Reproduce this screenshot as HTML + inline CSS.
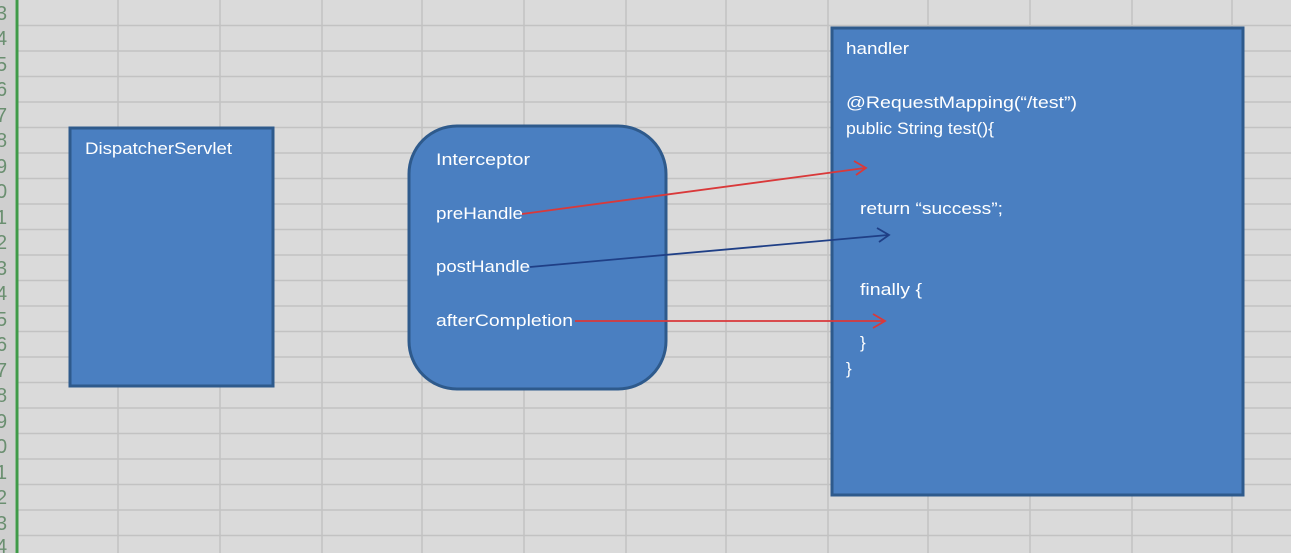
<!DOCTYPE html>
<html><head><meta charset="utf-8"><style>
html,body{margin:0;padding:0;background:#d9d9d9;}
svg{display:block;}
text{font-family:"Liberation Sans",sans-serif;fill:#fff;font-size:17px;}
</style></head><body>
<svg width="1291" height="553" viewBox="0 0 1291 553" xmlns="http://www.w3.org/2000/svg">
<rect x="0" y="0" width="1291" height="553" fill="#dadada"/>
<g stroke="#c2c2c2" stroke-width="1.5">
<line x1="18" y1="25.5" x2="1291" y2="25.5"/><line x1="18" y1="51" x2="1291" y2="51"/>
<line x1="18" y1="76.5" x2="1291" y2="76.5"/><line x1="18" y1="102" x2="1291" y2="102"/>
<line x1="18" y1="127.5" x2="1291" y2="127.5"/><line x1="18" y1="153" x2="1291" y2="153"/>
<line x1="18" y1="178.5" x2="1291" y2="178.5"/><line x1="18" y1="204" x2="1291" y2="204"/>
<line x1="18" y1="229.5" x2="1291" y2="229.5"/><line x1="18" y1="255" x2="1291" y2="255"/>
<line x1="18" y1="280.5" x2="1291" y2="280.5"/><line x1="18" y1="306" x2="1291" y2="306"/>
<line x1="18" y1="331.5" x2="1291" y2="331.5"/><line x1="18" y1="357" x2="1291" y2="357"/>
<line x1="18" y1="382.5" x2="1291" y2="382.5"/><line x1="18" y1="408" x2="1291" y2="408"/>
<line x1="18" y1="433.5" x2="1291" y2="433.5"/><line x1="18" y1="459" x2="1291" y2="459"/>
<line x1="18" y1="484.5" x2="1291" y2="484.5"/><line x1="18" y1="510" x2="1291" y2="510"/>
<line x1="18" y1="535.5" x2="1291" y2="535.5"/>
<line x1="118" y1="0" x2="118" y2="553"/><line x1="220" y1="0" x2="220" y2="553"/>
<line x1="322" y1="0" x2="322" y2="553"/><line x1="422" y1="0" x2="422" y2="553"/>
<line x1="524" y1="0" x2="524" y2="553"/><line x1="626" y1="0" x2="626" y2="553"/>
<line x1="726" y1="0" x2="726" y2="553"/><line x1="828" y1="0" x2="828" y2="553"/>
<line x1="928" y1="0" x2="928" y2="553"/><line x1="1030" y1="0" x2="1030" y2="553"/>
<line x1="1132" y1="0" x2="1132" y2="553"/><line x1="1232" y1="0" x2="1232" y2="553"/>
</g>
<rect x="0" y="0" width="15" height="553" fill="#cfcfcf"/>
<line x1="17" y1="0" x2="17" y2="553" stroke="#3f9a48" stroke-width="3"/>
<g>
<text x="-4" y="20" style="fill:#6a8f70;font-size:20px">3</text><text x="-4" y="45" style="fill:#6a8f70;font-size:20px">4</text>
<text x="-4" y="71" style="fill:#6a8f70;font-size:20px">5</text><text x="-4" y="96" style="fill:#6a8f70;font-size:20px">6</text>
<text x="-4" y="122" style="fill:#6a8f70;font-size:20px">7</text><text x="-4" y="147" style="fill:#6a8f70;font-size:20px">8</text>
<text x="-4" y="173" style="fill:#6a8f70;font-size:20px">9</text><text x="-4" y="198" style="fill:#6a8f70;font-size:20px">0</text>
<text x="-4" y="224" style="fill:#6a8f70;font-size:20px">1</text><text x="-4" y="249" style="fill:#6a8f70;font-size:20px">2</text>
<text x="-4" y="275" style="fill:#6a8f70;font-size:20px">3</text><text x="-4" y="300" style="fill:#6a8f70;font-size:20px">4</text>
<text x="-4" y="326" style="fill:#6a8f70;font-size:20px">5</text><text x="-4" y="351" style="fill:#6a8f70;font-size:20px">6</text>
<text x="-4" y="377" style="fill:#6a8f70;font-size:20px">7</text><text x="-4" y="402" style="fill:#6a8f70;font-size:20px">8</text>
<text x="-4" y="428" style="fill:#6a8f70;font-size:20px">9</text><text x="-4" y="453" style="fill:#6a8f70;font-size:20px">0</text>
<text x="-4" y="479" style="fill:#6a8f70;font-size:20px">1</text><text x="-4" y="504" style="fill:#6a8f70;font-size:20px">2</text>
<text x="-4" y="530" style="fill:#6a8f70;font-size:20px">3</text><text x="-4" y="553" style="fill:#6a8f70;font-size:20px">4</text>
</g>
<rect x="70" y="128" width="203" height="258" fill="#4a7fc1" stroke="#2e5a8c" stroke-width="3"/>
<text x="85" y="154" textLength="147" lengthAdjust="spacingAndGlyphs">DispatcherServlet</text>
<rect x="409" y="126" width="257" height="263" rx="48" fill="#4a7fc1" stroke="#2e5a8c" stroke-width="3"/>
<text x="436" y="165" textLength="94" lengthAdjust="spacingAndGlyphs">Interceptor</text>
<text x="436" y="219" textLength="87" lengthAdjust="spacingAndGlyphs">preHandle</text>
<text x="436" y="272" textLength="94" lengthAdjust="spacingAndGlyphs">postHandle</text>
<text x="436" y="326" textLength="137" lengthAdjust="spacingAndGlyphs">afterCompletion</text>
<rect x="832" y="28" width="411" height="467" fill="#4a7fc1" stroke="#2e5a8c" stroke-width="3"/>
<text x="846" y="54" textLength="63" lengthAdjust="spacingAndGlyphs">handler</text>
<text x="846" y="108" textLength="231" lengthAdjust="spacingAndGlyphs">@RequestMapping(“/test”)</text>
<text x="846" y="134" textLength="148" lengthAdjust="spacingAndGlyphs">public String test(){</text>
<text x="860" y="214" textLength="143" lengthAdjust="spacingAndGlyphs">return “success”;</text>
<text x="860" y="295" textLength="62" lengthAdjust="spacingAndGlyphs">finally {</text>
<text x="860" y="348">}</text>
<text x="846" y="374">}</text>
<g fill="none" stroke-width="1.8">
<path d="M522 214 L865 168 M854 161 L866 168 L856 175" stroke="#d9393a"/>
<path d="M530 267 L888 235 M877 228 L889 235 L879 242" stroke="#1f3f86"/>
<path d="M575 321 L884 321 M873 314 L885 321 L873 328" stroke="#d9393a"/>
</g>
</svg>
</body></html>
